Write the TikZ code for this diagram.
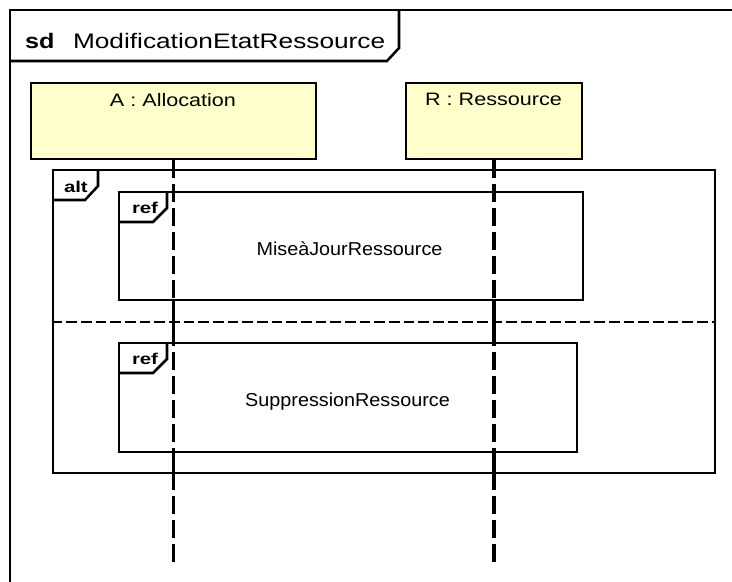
\documentclass[tikz,border=0pt]{standalone}
\usepackage{fontspec}
\setmainfont{Liberation Sans}
\usepackage{graphicx}
\definecolor{objfill}{RGB}{255,255,204}
\begin{document}
\begin{tikzpicture}[x=0.75pt,y=-0.75pt,
  frame/.style={draw=black,line width=1.8pt},
  objbox/.style={draw=black,line width=2pt,fill=objfill,inner sep=0pt},
  fragbox/.style={draw=black,line width=2.2pt,inner sep=0pt},
  tabline/.style={draw=black,line width=1.9pt},
  life/.style={line width=2.5pt,dash pattern=on 13pt off 5pt},
  lifesolid/.style={line width=2.5pt},
  sepline/.style={line width=2.2pt,dash pattern=on 8pt off 3pt},
  txt/.style={inner sep=0pt,outer sep=0pt,anchor=base},
  titlefont/.style={font=\fontsize{15.75}{18}\selectfont},
  objfont/.style={font=\fontsize{13.5}{16}\selectfont},
  reffont/.style={font=\fontsize{14}{16}\selectfont},
  tagfont/.style={font=\fontsize{11.75}{13}\selectfont\bfseries}]
\useasboundingbox (0,0) rectangle (732,582);
\clip (0,0) rectangle (732,582);

% outer sd frame
\draw[frame] (740,10) -- (10,10) -- (10,600);
\draw[tabline] (10,61) -- (387,61) -- (399,48) -- (399,10);
\node[txt,titlefont,anchor=base west] (sdkw) at (25,48) {\scalebox{1.2}[1]{\bfseries sd}};
\node[txt,titlefont,anchor=base west] (sdname) at (73,48) {\scalebox{1.25}[1]{ModificationEtatRessource}};

% objects
\node[objbox,minimum width=213.75pt,minimum height=57pt] (A) at (173.5,121) {};
\node[objbox,minimum width=132pt,minimum height=57pt] (R) at (494,121) {};
\node[txt,objfont] (Alab) at (173,106) {\scalebox{1.2}[1]{A : Allocation}};
\node[txt,objfont] (Rlab) at (493.5,105) {\scalebox{1.2}[1]{R : Ressource}};

% alt fragment
\node[fragbox,minimum width=496.5pt,minimum height=227.25pt] (alt) at (384,321.5) {};
\draw[tabline] (53,200) -- (85,200) -- (98,186) -- (98,170);
\node[txt,tagfont,anchor=base west] (altlab) at (64,192) {\scalebox{1.3}[1]{alt}};
\coordinate (sepy) at (0,322);
\coordinate (sepL) at (alt.west |- sepy);
\coordinate (sepR) at (alt.east |- sepy);
\draw[sepline] (sepL) -- (sepR);

% ref 1
\node[fragbox,minimum width=348pt,minimum height=81pt] (ref1) at (351,246) {};
\draw[tabline] (119,222) -- (153,222) -- (167,208) -- (167,192);
\node[txt,tagfont,anchor=base west] (ref1lab) at (132,213) {\scalebox{1.3}[1]{ref}};
\node[txt,reffont] (ref1name) at (349.5,255) {\scalebox{1.06}[1]{MiseàJourRessource}};

% ref 2
\node[fragbox,minimum width=343.5pt,minimum height=81.75pt] (ref2) at (348,397.5) {};
\draw[tabline] (119,373) -- (153,373) -- (167,359) -- (167,343);
\node[txt,tagfont,anchor=base west] (ref2lab) at (132,364) {\scalebox{1.3}[1]{ref}};
\node[txt,reffont] (ref2name) at (347.5,406.5) {\scalebox{1.06}[1]{SuppressionRessource}};

% lifelines
\coordinate (yend) at (0,562);
\coordinate (Aend) at (A.south |- yend);
\coordinate (Rend) at (R.south |- yend);
\draw[life] (A.south) -- (Aend);
\draw[life] (R.south) -- (Rend);
\draw[lifesolid] (A.south) -- (A.south |- alt.north);
\draw[lifesolid] (R.south) -- (R.south |- alt.north);
\draw[lifesolid] (A.south |- ref1.south) -- (A.south |- ref2.north);
\draw[lifesolid] (R.south |- ref1.south) -- (R.south |- ref2.north);
\draw[lifesolid] (A.south |- ref2.south) -- (A.south |- alt.south);
\draw[lifesolid] (R.south |- ref2.south) -- (R.south |- alt.south);
\end{tikzpicture}
\end{document}
